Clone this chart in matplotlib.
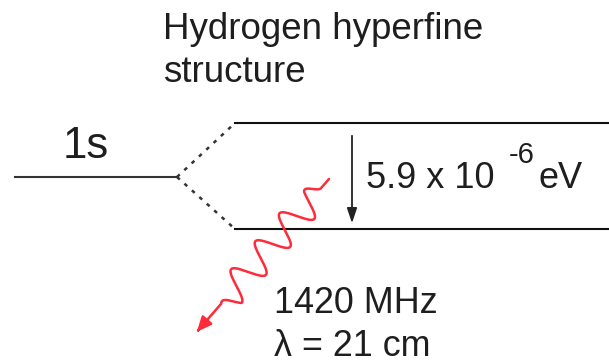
"""Hydrogen hyperfine structure level diagram."""

import numpy as np
import matplotlib
matplotlib.use("Agg")
import matplotlib.pyplot as plt

# level geometry in picture pixels (x right, y down)
ground_level = [15, 177, 177]        # x0, x1, y
upper_level = [235, 609, 123]
lower_level = [235, 609, 229]
split_arrow_x = 352
photon_start = (329, 179)
photon_end = (195, 334)

TEXT = "#1e1e1e"
RED = "#ff2a3a"
FONT = "Liberation Sans"

fig = plt.figure(figsize=(6.09, 3.63), dpi=100)
ax = fig.add_axes([0, 0, 1, 1])
ax.set_xlim(0, 609)
ax.set_ylim(363, 0)
ax.axis("off")

# energy levels
ax.plot(ground_level[:2], [ground_level[2]] * 2, color="#333333", lw=1.5)
ax.plot(upper_level[:2], [upper_level[2]] * 2, color="#111111", lw=1.5)
ax.plot(lower_level[:2], [lower_level[2]] * 2, color="#111111", lw=1.5)

# dotted splitting lines
for lvl in (upper_level, lower_level):
    ax.plot([ground_level[1], lvl[0]], [ground_level[2], lvl[2]],
            color="#333333", lw=1.8, ls=(0, (1.5, 2.5)))

# energy gap arrow
ax.annotate("", xy=(split_arrow_x, lower_level[2] - 3), xytext=(split_arrow_x, upper_level[2] + 10),
            arrowprops=dict(arrowstyle="-|>,head_length=0.9,head_width=0.3", color="#222222", lw=1.3))

# photon wave
sx, sy = photon_start
ex, ey = photon_end
length = np.hypot(ex - sx, ey - sy)
ux, uy = (ex - sx) / length, (ey - sy) / length
px, py = -uy, ux
t = np.linspace(0, length - 8, 800)
env = np.clip((t - 12) / 14, 0, 1) * np.clip((length - 40 - t) / 14, 0, 1)
wave = 15 * env * np.sin(2 * np.pi * (t - 12) / 37)
wx = sx + ux * t + px * wave
wy = sy + uy * t + py * wave
ax.plot(wx, wy, color=RED, lw=1.8, solid_capstyle="round")
ax.annotate("", xy=(ex, ey), xytext=(wx[-1], wy[-1]),
            arrowprops=dict(arrowstyle="-|>,head_length=0.9,head_width=0.4", color=RED, lw=1.8))

# labels
ax.text(163, 12, "Hydrogen hyperfine\nstructure", fontsize=26.5, family=FONT, color=TEXT,
        va="top", ha="left", linespacing=1.28)
ax.text(63, 158, "1s", fontsize=31.5, family=FONT, color=TEXT, va="baseline", ha="left")
ax.text(366, 188, "5.9 x 10", fontsize=26, family=FONT, color=TEXT, va="baseline", ha="left")
ax.text(509, 163, "-6", fontsize=21, family=FONT, color=TEXT, va="baseline", ha="left")
ax.text(539, 188, "eV", fontsize=26, family=FONT, color=TEXT, va="baseline", ha="left")
ax.text(274, 313, "1420 MHz", fontsize=25.8, family=FONT, color=TEXT, va="baseline", ha="left")
ax.text(274, 356, "λ = 21 cm", fontsize=25.8, family=FONT, color=TEXT, va="baseline", ha="left")

fig.savefig("out.png", dpi=100)
